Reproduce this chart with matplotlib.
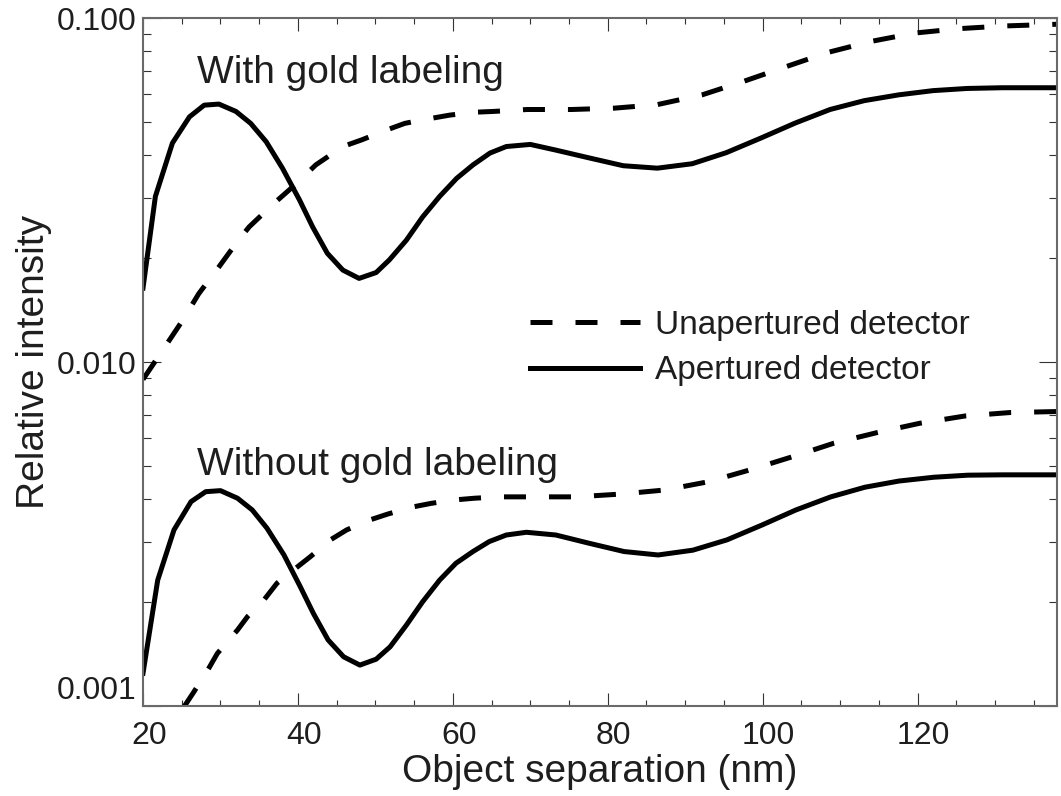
import matplotlib
matplotlib.use("Agg")
import matplotlib.pyplot as plt
from matplotlib.ticker import FixedLocator, NullFormatter, LogLocator
from matplotlib.lines import Line2D
from matplotlib.transforms import ScaledTranslation

plt.rcParams['font.family'] = ['Liberation Sans', 'DejaVu Sans']

# ---- data ----
gold_ap_x = [20.0, 21.6, 23.8, 26.0, 27.9, 29.8, 32.0, 33.9, 35.9, 38.0, 40.2, 41.9, 43.8,
             45.8, 47.9, 50.1, 51.8, 54.0, 56.1, 58.3, 60.5, 62.6, 64.8, 66.9, 70.0, 73.1,
             77.6, 82.0, 86.4, 90.9, 95.3, 99.8, 104.2, 108.7, 113.1, 117.6, 122.0, 126.4,
             130.9, 138.0]
gold_ap_y = [0.0164, 0.0303, 0.0433, 0.0516, 0.0558, 0.0562, 0.0535, 0.0494, 0.0437, 0.0366,
             0.0296, 0.0247, 0.0207, 0.0185, 0.0175, 0.0182, 0.0198, 0.0226, 0.0264, 0.0303,
             0.0342, 0.0374, 0.0405, 0.0423, 0.0429, 0.0414, 0.0392, 0.0372, 0.0366, 0.0377,
             0.0406, 0.0448, 0.0495, 0.0542, 0.0575, 0.0598, 0.0615, 0.0624, 0.0627, 0.0627]

gold_unap_x = [20.0, 23.1, 25.1, 27.2, 29.8, 32.0, 33.7, 36.9, 39.8, 42.3, 45.8, 48.2, 51.4,
               53.8, 56.6, 59.6, 62.6, 65.2, 69.6, 75.3, 80.9, 86.4, 92.2, 97.6, 103.1,
               108.4, 114.0, 119.6, 125.3, 131.1, 138.0]
gold_unap_y = [0.0089, 0.0113, 0.0132, 0.0158, 0.0189, 0.0221, 0.0247, 0.0289, 0.0330, 0.0374,
               0.0423, 0.0442, 0.0472, 0.0494, 0.0508, 0.0522, 0.0532, 0.0535, 0.0542, 0.0542,
               0.0547, 0.0560, 0.0598, 0.0655, 0.0723, 0.0794, 0.0855, 0.0904, 0.0931, 0.0948,
               0.0959]

plain_ap_x = [20.0, 21.9, 24.0, 26.2, 28.1, 30.0, 32.2, 34.1, 36.0, 38.2, 40.3, 42.0, 43.9,
              45.9, 48.0, 50.1, 51.9, 54.0, 56.1, 58.3, 60.4, 62.6, 64.7, 66.9, 69.5, 73.3,
              77.6, 82.1, 86.5, 91.0, 95.4, 99.9, 104.3, 108.8, 113.2, 117.6, 122.1, 126.5,
              131.0, 138.0]
plain_ap_y = [0.001245, 0.002323, 0.00325, 0.003926, 0.004198, 0.004227, 0.004018, 0.003715,
              0.003289, 0.002748, 0.002223, 0.001858, 0.001556, 0.001390, 0.001315, 0.001368,
              0.001486, 0.001718, 0.002009, 0.002323, 0.002600, 0.002812, 0.003006, 0.003141,
              0.003199, 0.003141, 0.002972, 0.002812, 0.002748, 0.002838, 0.003041, 0.003357,
              0.003715, 0.004055, 0.004325, 0.004508, 0.004624, 0.004688, 0.004699, 0.004699]

plain_unap_x = [25.3, 26.6, 28.5, 29.6, 32.2, 33.5, 35.6, 37.3, 39.4, 41.6, 44.2, 46.3, 49.3,
                51.6, 54.9, 57.2, 60.2, 62.8, 66.0, 70.1, 75.9, 81.6, 87.4, 93.0, 98.3,
                103.9, 109.2, 114.8, 120.3, 126.1, 131.9, 138.0]
plain_unap_y = [0.000995, 0.001102, 0.001288, 0.001422, 0.001663, 0.001820, 0.002032, 0.002275,
                0.002483, 0.002716, 0.003041, 0.003251, 0.003475, 0.003614, 0.003793, 0.003882,
                0.003972, 0.004018, 0.004055, 0.004055, 0.004055, 0.004130, 0.004246, 0.004487,
                0.004853, 0.005309, 0.005808, 0.006237, 0.006637, 0.006966, 0.007129, 0.007178]

series_labels = ["Unapertured detector", "Apertured detector"]
group_labels = ["With gold labeling", "Without gold labeling"]
x_ticks = [20, 40, 60, 80, 100, 120]
y_ticks = [0.001, 0.01, 0.1]
y_tick_labels = ["0.001", "0.010", "0.100"]

# ---- figure ----
W, H = 1061, 796
fig = plt.figure(figsize=(W / 100, H / 100), dpi=100)
ax = fig.add_axes([143 / W, 1 - 706 / H, (1057 - 143) / W, (706 - 18) / H])

LW = 3.6
dash = (0, (4.4, 4.6))
txt_color = '#1e1e1e'

ax.plot(gold_unap_x, gold_unap_y, color='black', lw=LW, linestyle=dash, dash_capstyle='butt')
ax.plot(gold_ap_x, gold_ap_y, color='black', lw=LW, solid_joinstyle='round')
ax.plot(plain_unap_x, plain_unap_y, color='black', lw=LW, linestyle=dash, dash_capstyle='butt')
ax.plot(plain_ap_x, plain_ap_y, color='black', lw=LW, solid_joinstyle='round')

ax.set_yscale('log')
ax.set_xlim(20, 138)
ax.set_ylim(0.001, 0.1)

ax.xaxis.set_major_locator(FixedLocator(x_ticks))
ax.xaxis.set_minor_locator(FixedLocator(list(range(20, 140, 5))))
ax.yaxis.set_major_locator(FixedLocator(y_ticks))
ax.yaxis.set_minor_locator(LogLocator(base=10, subs=range(2, 10), numticks=20))
ax.yaxis.set_minor_formatter(NullFormatter())
ax.set_xticklabels([str(t) for t in x_ticks])
ax.set_yticklabels(y_tick_labels)

tick_col = '#333333'
ax.tick_params(axis='both', which='both', direction='in', top=True, right=True,
               colors=tick_col, labelcolor=txt_color, width=0.8)
ax.tick_params(axis='x', which='major', length=9.4, labelsize=23, pad=11)
ax.tick_params(axis='x', which='minor', length=4.5)
ax.tick_params(axis='y', which='major', length=13, labelsize=23, pad=5)
ax.tick_params(axis='y', which='minor', length=6)

for lab in ax.get_yticklabels():
    if lab.get_text() == "0.001":
        lab.set_verticalalignment('bottom')

shift = ScaledTranslation(6 / 100, 0, fig.dpi_scale_trans)
for lab in ax.get_xticklabels():
    lab.set_transform(lab.get_transform() + shift)

for s in ax.spines.values():
    s.set_color('#6a6a6a')
    s.set_linewidth(1.5)

ax.set_xlabel("Object separation (nm)", fontsize=28, color=txt_color, labelpad=2)
ax.set_ylabel("Relative intensity", fontsize=28, color=txt_color, labelpad=3)

ax.text(27.0, 0.0647, group_labels[0], fontsize=28, color=txt_color, va='baseline', ha='left')
ax.text(27.0, 0.00470, group_labels[1], fontsize=28, color=txt_color, va='baseline', ha='left')

handles = [Line2D([], [], color='black', lw=LW, linestyle=dash, dash_capstyle='butt'),
           Line2D([], [], color='black', lw=LW)]
leg = ax.legend(handles, series_labels, loc='center left',
                bbox_to_anchor=(530 / W, 1 - 348 / H), bbox_transform=fig.transFigure,
                frameon=False, fontsize=24, handlelength=3.3, handletextpad=0.45,
                labelspacing=0.43, borderpad=0, borderaxespad=0)
for t in leg.get_texts():
    t.set_color(txt_color)

fig.savefig("out.png", dpi=100)
